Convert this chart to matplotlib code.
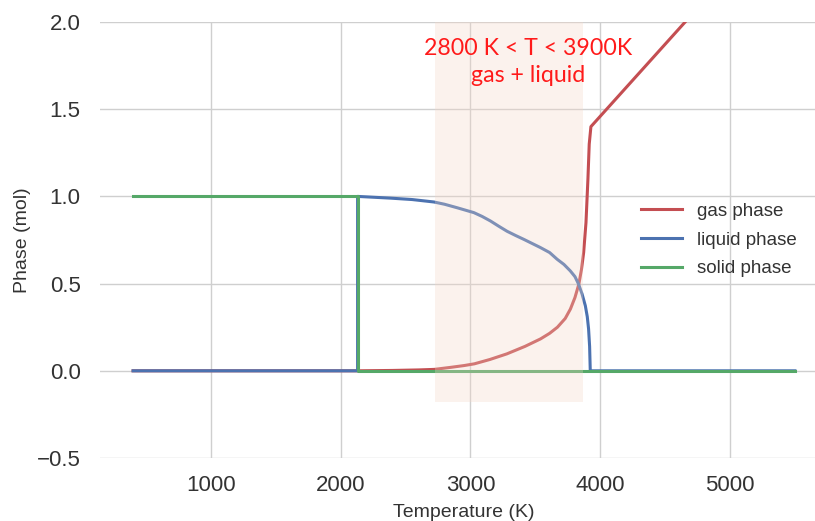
import matplotlib
matplotlib.use("Agg")
import matplotlib.pyplot as plt

# ---- data ----
temps_gas = [400, 2130, 2400, 2600, 2720, 2850, 2950, 3030, 3150, 3280, 3420, 3540,
             3610, 3670, 3730, 3770, 3805, 3835, 3855, 3872, 3890, 3905, 3915, 3928,
             4654, 5500]
gas = [0.0, 0.0, 0.002, 0.005, 0.008, 0.02, 0.03, 0.04, 0.065, 0.097, 0.14, 0.183,
       0.215, 0.25, 0.30, 0.354, 0.42, 0.497, 0.58, 0.678, 0.85, 1.10, 1.30, 1.40,
       2.0, 2.70]

temps_liquid = [400, 2130, 2130, 2385, 2550, 2718, 2800, 2897, 3026, 3090, 3154, 3220,
                3282, 3350, 3410, 3538, 3610, 3667, 3720, 3769, 3805, 3833, 3860,
                3885, 3900, 3910, 3918, 3923, 5500]
liquid = [0.0, 0.0, 1.0, 0.99, 0.982, 0.968, 0.955, 0.935, 0.907, 0.885, 0.859, 0.828,
          0.80, 0.775, 0.754, 0.707, 0.678, 0.64, 0.61, 0.573, 0.54, 0.497, 0.44,
          0.373, 0.31, 0.24, 0.14, 0.0, 0.0]

temps_solid = [400, 2130, 2130, 5500]
solid = [1.0, 1.0, 0.0, 0.0]

series_labels = ["gas phase", "liquid phase", "solid phase"]
span_T = [2730, 3870]
annotation = "2800 K < T < 3900K\ngas + liquid"
x_ticks = [1000, 2000, 3000, 4000, 5000]
y_ticks = [-0.5, 0.0, 0.5, 1.0, 1.5, 2.0]

# ---- figure ----
W, H = 815, 521
fig = plt.figure(figsize=(W / 100, H / 100), dpi=100)
ax = fig.add_axes([100 / W, (H - 458) / H, 728 / W, 436 / H])
ax.set_facecolor("white")
for s in ax.spines.values():
    s.set_visible(False)

c_gas, c_liq, c_sol = "#c44e52", "#4c72b0", "#55a868"
ax.plot(temps_gas, gas, color=c_gas, lw=2.2, label=series_labels[0], zorder=2)
ax.plot(temps_liquid, liquid, color=c_liq, lw=2.2, label=series_labels[1], zorder=2)
ax.plot(temps_solid, solid, color=c_sol, lw=2.2, label=series_labels[2], zorder=2)

ax.axvspan(span_T[0], span_T[1], ymin=0.128, ymax=1.0, color="#f5d7c6",
           alpha=0.3, lw=0, zorder=3)

ax.text(3446, 1.77, annotation, color="#ff1a1a", fontsize=16.7, ha="center",
        va="center", family="Lato", linespacing=1.35, zorder=5)

ax.set_xlim(145, 5755)
ax.set_ylim(-0.5, 2.0)
ax.set_xticks(x_ticks)
ax.set_yticks(y_ticks)
ax.grid(True, color="#cfcfcf", lw=1)
ax.set_axisbelow(True)
ax.tick_params(length=0, labelsize=16, colors="#333333")
ax.tick_params(axis="x", pad=12)
ax.tick_params(axis="y", pad=14)
for lab in ax.get_xticklabels() + ax.get_yticklabels():
    lab.set_family("Liberation Sans")
ax.set_xlabel("Temperature (K)", fontsize=14, color="#333333",
              family="Liberation Sans", labelpad=6)
ax.set_ylabel("Phase (mol)", fontsize=14, color="#333333",
              family="Liberation Sans", labelpad=4)

leg = ax.legend(loc="center left", bbox_to_anchor=(624 / W, (H - 240) / H),
                bbox_transform=fig.transFigure, frameon=False,
                prop={"family": "Liberation Sans", "size": 13.5},
                handlelength=2.2, handletextpad=0.8, labelspacing=0.62)
for t in leg.get_texts():
    t.set_color("#333333")

fig.savefig("out.png", dpi=100)
